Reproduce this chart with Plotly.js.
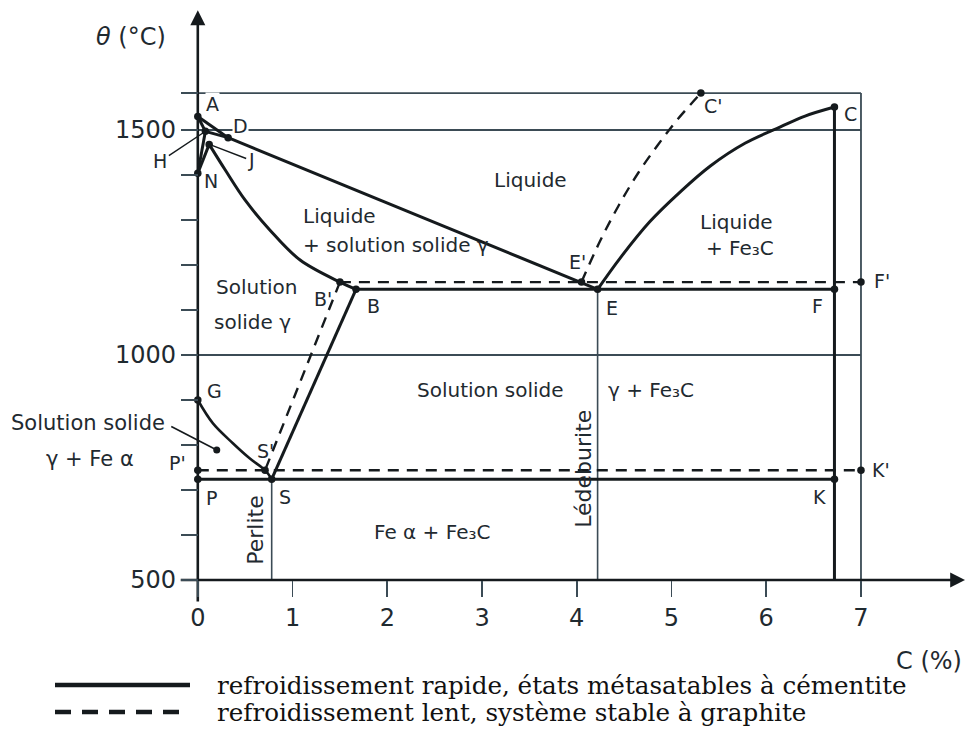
<!DOCTYPE html>
<html><head><meta charset="utf-8">
<script src="https://cdn.plot.ly/plotly-3.0.1.min.js"></script>
<style>html,body{margin:0;padding:0;background:#fff}#chart{width:965px;height:733px}</style>
</head><body><div id="chart"></div>
<script>
// ---------------- data (C %, °C) ----------------
const xTickVals = [0, 1, 2, 3, 4, 5, 6, 7];
const xTickText = ['0', '1', '2', '3', '4', '5', '6', '7'];
const yTickVals = [500, 1000, 1500];
const yTickText = ['500', '1000', '1500'];
const yMinorTickVals = [600, 700, 800, 900, 1100, 1200, 1300, 1400, 1582];

const ptLabel = ["A", "H", "D", "J", "N", "B'", "B", "E'", "E", "C", "C'", "F", "F'", "G", "S'", "S", "P'", "P", "K", "K'"];
const ptC     = [0, 0.08, 0.32, 0.12, 0, 1.50, 1.67, 4.05, 4.22, 6.72, 5.31, 6.72, 7.0, 0, 0.71, 0.78, 0, 0, 6.72, 7.0];
const ptT     = [1530, 1497, 1483, 1468, 1404, 1162, 1146, 1162, 1146, 1551, 1582, 1146, 1162, 900, 744, 724, 744, 724, 724, 744];

// solid lines (metastable, cementite)
const lineAD_C = [0, 0.32],            lineAD_T = [1530, 1483];
const lineAH_C = [0, 0.08],            lineAH_T = [1530, 1497];
const lineHD_C = [0.08, 0.32],         lineHD_T = [1497, 1483];
const lineHN_C = [0.08, 0],            lineHN_T = [1497, 1404];
const lineNJ_C = [0, 0.12],            lineNJ_T = [1404, 1468];
const liqDE_C  = [0.32, 4.22],         liqDE_T  = [1483, 1146];
const solJB_C  = [0.12, 0.29, 0.50, 0.76, 1.08, 1.50, 1.67];
const solJB_T  = [1468, 1411, 1344, 1278, 1211, 1162, 1146];
const liqEC_C  = [4.22, 4.46, 4.77, 5.09, 5.41, 5.78, 6.15, 6.41, 6.72];
const liqEC_T  = [1146, 1216, 1296, 1362, 1420, 1471, 1507, 1531, 1551];
const lineBF_C = [1.67, 6.72],         lineBF_T = [1146, 1146];
const lineBS_C = [1.67, 0.78],         lineBS_T = [1146, 724];
const curveGS_C = [0, 0.16, 0.37, 0.55, 0.71, 0.78];
const curveGS_T = [900, 848, 804, 770, 744, 724];
const linePK_C = [0, 6.72],            linePK_T = [724, 724];
const lineCK_C = [6.72, 6.72],         lineCK_T = [1551, 500];

// dashed lines (stable, graphite)
const liqEpCp_C = [4.05, 4.25, 4.45, 4.65, 4.85, 5.05, 5.31];
const liqEpCp_T = [1162, 1255, 1335, 1405, 1465, 1520, 1582];
const lineBpFp_C = [1.50, 7.0],        lineBpFp_T = [1162, 1162];
const lineBpSp_C = [1.50, 0.71],       lineBpSp_T = [1162, 744];
const linePpKp_C = [0, 7.0],           linePpKp_T = [744, 744];

// thin frame lines
const frameTop_C = [0, 7],   frameTop_T = [1582, 1582];
const frame1500_C = [0, 7],  frame1500_T = [1500, 1500];
const frame1000_C = [0, 7],  frame1000_T = [1000, 1000];
const frameRight_C = [7, 7], frameRight_T = [1582, 500];
const perlite_C = [0.78, 0.78],   perlite_T = [724, 500];
const ledeb_C = [4.22, 4.22],     ledeb_T = [1146, 500];

// axes (with arrow heads)
const yAxis_C = [0, 0],        yAxis_T = [452, 1740];
const xAxis_C = [-0.18, 7.95], xAxis_T = [500, 500];
const arrowTip_C = [0, 8.1],   arrowTip_T = [1766, 500];

// pointer for "Solution solide γ + Fe α"
const pointer_C = [-0.28, 0.20], pointer_T = [841, 789];

const legendText = [
  'refroidissement rapide, états métasatables à cémentite',
  'refroidissement lent, système stable à graphite'
];

// ---------------- styles ----------------
const INK = '#151a1d';
const THIN = '#3b4b55';
const TXT = '#1f2a30';
const SANS = 'DejaVu Sans, sans-serif';
const SERIF = 'DejaVu Serif, serif';
const DASH = '11px,8px';

function ln(x, y, opt) {
  opt = opt || {};
  return {
    type: 'scatter', mode: 'lines', x: x, y: y, hoverinfo: 'skip', showlegend: false,
    line: {color: opt.color || INK, width: opt.width || 3, dash: opt.dash || 'solid',
           shape: opt.spline ? 'spline' : 'linear', smoothing: 1}
  };
}

const traces = [
  ln(frameTop_C, frameTop_T, {color: THIN, width: 1.8}),
  ln(frame1500_C, frame1500_T, {color: THIN, width: 1.8}),
  ln(frame1000_C, frame1000_T, {color: THIN, width: 1.8}),
  ln(frameRight_C, frameRight_T, {color: THIN, width: 1.8}),
  ln(perlite_C, perlite_T, {color: THIN, width: 1.6}),
  ln(ledeb_C, ledeb_T, {color: THIN, width: 1.6}),

  ln(yAxis_C, yAxis_T, {width: 2.6}),
  ln(xAxis_C, xAxis_T, {width: 2.6}),
  {type: 'scatter', mode: 'markers', x: arrowTip_C, y: arrowTip_T, hoverinfo: 'skip', showlegend: false,
   marker: {color: INK, size: 15, symbol: ['arrow-up', 'arrow-right'], line: {width: 0}}},

  ln(lineAD_C, lineAD_T), ln(lineAH_C, lineAH_T), ln(lineHD_C, lineHD_T),
  ln(lineHN_C, lineHN_T), ln(lineNJ_C, lineNJ_T),
  ln(liqDE_C, liqDE_T),
  ln(solJB_C, solJB_T, {spline: true}),
  ln(liqEC_C, liqEC_T, {spline: true}),
  ln(lineBF_C, lineBF_T), ln(lineBS_C, lineBS_T),
  ln(curveGS_C, curveGS_T, {spline: true, width: 2.6}),
  ln(linePK_C, linePK_T), ln(lineCK_C, lineCK_T),

  ln(liqEpCp_C, liqEpCp_T, {dash: DASH, width: 2.4, spline: true}),
  ln(lineBpFp_C, lineBpFp_T, {dash: DASH, width: 2.4}),
  ln(lineBpSp_C, lineBpSp_T, {dash: DASH, width: 2.4}),
  ln(linePpKp_C, linePpKp_T, {dash: DASH, width: 2.4}),

  ln(pointer_C, pointer_T, {color: INK, width: 1.6}),
  {type: 'scatter', mode: 'markers', x: [pointer_C[1]], y: [pointer_T[1]], hoverinfo: 'skip', showlegend: false,
   marker: {color: INK, size: 7}},
  {type: 'scatter', mode: 'markers', x: ptC, y: ptT, hoverinfo: 'skip', showlegend: false,
   marker: {color: INK, size: 7.5}}
];

// label offsets in screen px [dx, dy] (dy positive = down)
const labelOffset = {
  "A": [15, -13], "D": [12, -12], "N": [13, 8], "B'": [-17, 17], "B": [17, 17],
  "E'": [-4, -20], "E": [14, 19], "C": [16, 7], "C'": [13, 13], "F": [-17, 17],
  "F'": [21, -1], "G": [17, -9], "S'": [0, -19], "S": [13, 18], "P'": [-20, -7],
  "P": [14, 19], "K": [-15, 18], "K'": [20, 0]
};
const annotations = [];
ptLabel.forEach((lab, i) => {
  if (lab === 'H' || lab === 'J') {
    const off = lab === 'H' ? [-45, 30] : [42, 16];
    annotations.push({x: ptC[i], y: ptT[i], xref: 'x', yref: 'y', text: lab, showarrow: true,
      arrowhead: 0, arrowwidth: 1.4, arrowcolor: INK, ax: off[0], ay: off[1], standoff: 3,
      font: {family: SANS, size: 19, color: TXT}});
  } else {
    const o = labelOffset[lab];
    annotations.push({x: ptC[i], y: ptT[i], xref: 'x', yref: 'y', text: lab, showarrow: false,
      xshift: o[0], yshift: -o[1], font: {family: SANS, size: 19, color: TXT},
      bgcolor: (lab === 'A' || lab === 'D') ? '#ffffff' : 'rgba(0,0,0,0)', borderpad: 0});
  }
});

function txt(x, y, s, opt) {
  opt = opt || {};
  return Object.assign({x: x, y: y, xref: 'x', yref: 'y', text: s, showarrow: false,
    font: {family: SANS, size: opt.size || 20, color: TXT}}, opt.extra || {});
}
annotations.push(
  txt(3.51, 1389, 'Liquide'),
  txt(1.50, 1309, 'Liquide'),
  txt(2.09, 1244, '+ solution solide γ'),
  txt(5.69, 1296, 'Liquide'),
  txt(5.72, 1238, '+ Fe₃C'),
  txt(0.62, 1151, 'Solution'),
  txt(0.58, 1073, 'solide γ'),
  txt(3.09, 922, 'Solution solide'),
  txt(4.78, 922, 'γ + Fe₃C'),
  txt(-1.16, 850, 'Solution solide', {size: 21}),
  txt(-1.14, 769, 'γ + Fe α', {size: 21}),
  txt(2.47, 607, 'Fe α + Fe₃C'),
  txt(0.60, 611, 'Perlite', {size: 22, extra: {textangle: -90}}),
  txt(4.07, 748, 'Lédeburite', {size: 22, extra: {textangle: -90}}),
  txt(-0.70, 1707, '<i>θ</i> (°C)', {size: 24}),
  txt(8.085, 320, 'C (%)', {size: 24, extra: {xanchor: 'right'}})
);

// legend
const legY = [1 - 685 / 733, 1 - 712 / 733];
const shapes = [
  {type: 'line', xref: 'paper', yref: 'paper', x0: 55 / 965, x1: 190 / 965, y0: legY[0], y1: legY[0],
   line: {color: INK, width: 4.5}},
  {type: 'line', xref: 'paper', yref: 'paper', x0: 55 / 965, x1: 190 / 965, y0: legY[1], y1: legY[1],
   line: {color: INK, width: 4.5, dash: '16px,11px'}}
];
legendText.forEach((t, i) => annotations.push({x: 215 / 965, y: legY[i], xref: 'paper', yref: 'paper',
  xanchor: 'left', yanchor: 'middle', text: t, showarrow: false,
  font: {family: SERIF, size: 24.6, color: '#111'}}));

const layout = {
  width: 965, height: 733, margin: {l: 0, r: 0, t: 0, b: 0},
  paper_bgcolor: '#fff', plot_bgcolor: '#fff', showlegend: false,
  xaxis: {range: [-2.0878, 8.098], anchor: 'free', position: 0.20873, showgrid: false, zeroline: false,
          showline: false, ticks: 'outside', ticklen: 16, tickwidth: 1.8, tickcolor: THIN,
          tickvals: xTickVals, ticktext: xTickText, tickfont: {family: SANS, size: 24, color: TXT}},
  yaxis: {range: [160, 1788.9], anchor: 'free', position: 0.20497, showgrid: false, zeroline: false,
          showline: false, ticks: 'outside', ticklen: 17, tickwidth: 1.8, tickcolor: THIN,
          tickvals: yTickVals, ticktext: yTickText, tickfont: {family: SANS, size: 24, color: TXT},
          minor: {tickvals: yMinorTickVals, ticks: 'outside', ticklen: 17, tickwidth: 1.8, tickcolor: THIN}},
  shapes: shapes, annotations: annotations
};

Plotly.newPlot('chart', traces, layout, {staticPlot: true, displayModeBar: false});
</script></body></html>
